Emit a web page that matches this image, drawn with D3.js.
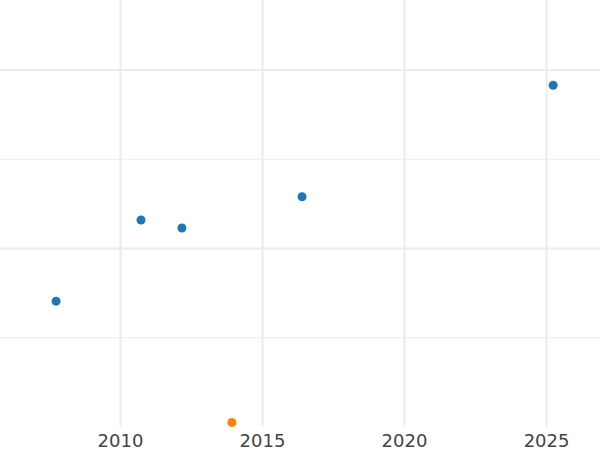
<!DOCTYPE html>
<html>
  <head>
    <meta charset="utf-8">
    <script src="https://d3js.org/d3.v7.min.js"></script>
    <style>
      body { margin: 0px; }
      .domain { display: none; }
      .tick text {
        fill: #444;
        font-size: 18px;
        font-family: "DejaVu Sans", sans-serif;
      }
    </style>
  </head>
  <body>
    <svg width="600" height="450"></svg>
    <script>
      const years  = [2007.75, 2010.74, 2012.18, 2016.41, 2025.25, 2013.94];
      const values = [1.41, 2.32, 2.23, 2.58, 3.83, 0.05];
      const groups = ['a', 'a', 'a', 'a', 'a', 'b'];
      const xTicks = [2010, 2015, 2020, 2025];
      const majorY = [2, 4];
      const minorY = [1, 3];

      const svg = d3.select('svg');
      const width = +svg.attr('width');
      const innerHeight = 427;

      const xScale = d3.scaleLinear()
        .domain([2005.775, 2026.9])
        .range([0, width]);
      const yScale = d3.scaleLinear()
        .domain([0, 4.785])
        .range([innerHeight, 0]);
      const colorScale = d3.scaleOrdinal()
        .domain(['a', 'b'])
        .range(['#1f77b4', '#ff7f0e']);

      const grid = svg.append('g');
      grid.selectAll('.minor').data(minorY)
        .enter().append('line')
          .attr('x1', 0).attr('x2', width)
          .attr('y1', d => yScale(d)).attr('y2', d => yScale(d))
          .attr('stroke', '#ebebeb').attr('stroke-width', 1);
      grid.selectAll('.major').data(majorY)
        .enter().append('line')
          .attr('x1', 0).attr('x2', width)
          .attr('y1', d => yScale(d)).attr('y2', d => yScale(d))
          .attr('stroke', '#ebebeb').attr('stroke-width', 2);

      const xAxis = d3.axisBottom(xScale)
        .tickValues(xTicks)
        .tickFormat(d3.format('d'))
        .tickSize(-innerHeight)
        .tickPadding(7);

      svg.append('g')
        .attr('transform', `translate(0,${innerHeight})`)
        .call(xAxis)
        .call(g => g.selectAll('.tick line').attr('stroke', '#ebebeb').attr('stroke-width', 2));

      svg.append('g').selectAll('circle').data(years)
        .enter().append('circle')
          .attr('cx', d => xScale(d))
          .attr('cy', (d, i) => yScale(values[i]))
          .attr('r', 4.5)
          .attr('fill', (d, i) => colorScale(groups[i]));
    </script>
  </body>
</html>
